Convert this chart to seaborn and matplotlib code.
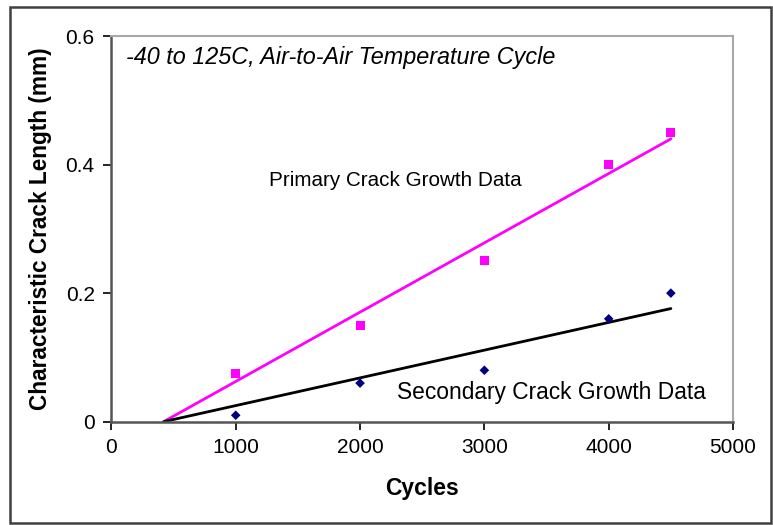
import matplotlib
matplotlib.use("Agg")
import matplotlib.pyplot as plt
from matplotlib.patches import Rectangle
import pandas as pd
import seaborn as sns

# Measured crack lengths (mm) after thermal cycling
cycles = [1000, 2000, 3000, 4000, 4500]
primary_len = [0.075, 0.15, 0.25, 0.40, 0.45]
secondary_len = [0.01, 0.06, 0.08, 0.16, 0.20]

# Linear growth trends (start / end of each fitted line)
trend_cycles = [420, 4500]
primary_trend = [0.0, 0.44]
secondary_trend = [0.0, 0.176]

x_ticks = [0, 1000, 2000, 3000, 4000, 5000]
y_ticks = [0, 0.2, 0.4, 0.6]
y_tick_labels = ["0", "0.2", "0.4", "0.6"]

sns.set_theme(style="white")
plt.rcParams["font.family"] = ["Liberation Sans", "DejaVu Sans"]
plt.rcParams["text.color"] = "#000000"
plt.rcParams["axes.labelcolor"] = "#000000"
plt.rcParams["xtick.color"] = "#000000"
plt.rcParams["ytick.color"] = "#000000"

pts = pd.DataFrame({"Cycles": cycles + cycles,
                    "Length": primary_len + secondary_len,
                    "Series": ["Primary"] * len(cycles) + ["Secondary"] * len(cycles)})
trend = pd.DataFrame({"Cycles": trend_cycles + trend_cycles,
                      "Length": primary_trend + secondary_trend,
                      "Series": ["Primary"] * 2 + ["Secondary"] * 2})

fig = plt.figure(figsize=(7.73, 5.25), dpi=100)
ax = fig.add_axes([0.1441, 0.1968, 0.8042, 0.7346])

sns.lineplot(data=trend, x="Cycles", y="Length", hue="Series",
             palette={"Primary": "#FF00FF", "Secondary": "#000000"},
             linewidth=2.0, legend=False, ax=ax, zorder=2)
sns.scatterplot(data=pts[pts.Series == "Primary"], x="Cycles", y="Length",
                marker="s", s=42, color="#FF00FF", edgecolor="none",
                legend=False, ax=ax, zorder=3)
sns.scatterplot(data=pts[pts.Series == "Secondary"], x="Cycles", y="Length",
                marker="D", s=24, color="#000080", edgecolor="none",
                legend=False, ax=ax, zorder=3)

ax.set_xlim(0, 5000)
ax.set_ylim(0, 0.6)
ax.set_xticks(x_ticks)
ax.set_xticklabels([str(t) for t in x_ticks])
ax.set_yticks(y_ticks)
ax.set_yticklabels(y_tick_labels)
ax.tick_params(axis="both", which="major", direction="out", length=6,
               width=1.2, color="#000000", labelcolor="#000000",
               labelsize=15, pad=6, bottom=True, left=True)

for side in ("left", "bottom"):
    ax.spines[side].set_color("#555555")
    ax.spines[side].set_linewidth(1.8)
for side in ("top", "right"):
    ax.spines[side].set_color("#A8A8A8")
    ax.spines[side].set_linewidth(1.5)

ax.set_xlabel("Cycles", fontsize=16.5, fontweight="bold", labelpad=14,
              color="#000000")
ax.set_ylabel("Characteristic Crack Length (mm)", fontsize=16.3,
              fontweight="bold", labelpad=10, color="#000000")

ax.text(0.024, 0.975, "-40 to 125C, Air-to-Air Temperature Cycle",
        transform=ax.transAxes, fontsize=16.8, fontstyle="italic",
        ha="left", va="top", color="#000000")
ax.text(1270, 0.375, "Primary Crack Growth Data", fontsize=14.9,
        ha="left", va="center", color="#000000")
ax.text(2300, 0.045, "Secondary Crack Growth Data", fontsize=16.4,
        ha="left", va="center", color="#000000")

# Outer chart border
fig.patches.append(Rectangle((10 / 773, 2 / 525), 761 / 773, 516 / 525,
                             transform=fig.transFigure, fill=False,
                             edgecolor="#404040", linewidth=1.8))

fig.savefig("out.png", dpi=100)
